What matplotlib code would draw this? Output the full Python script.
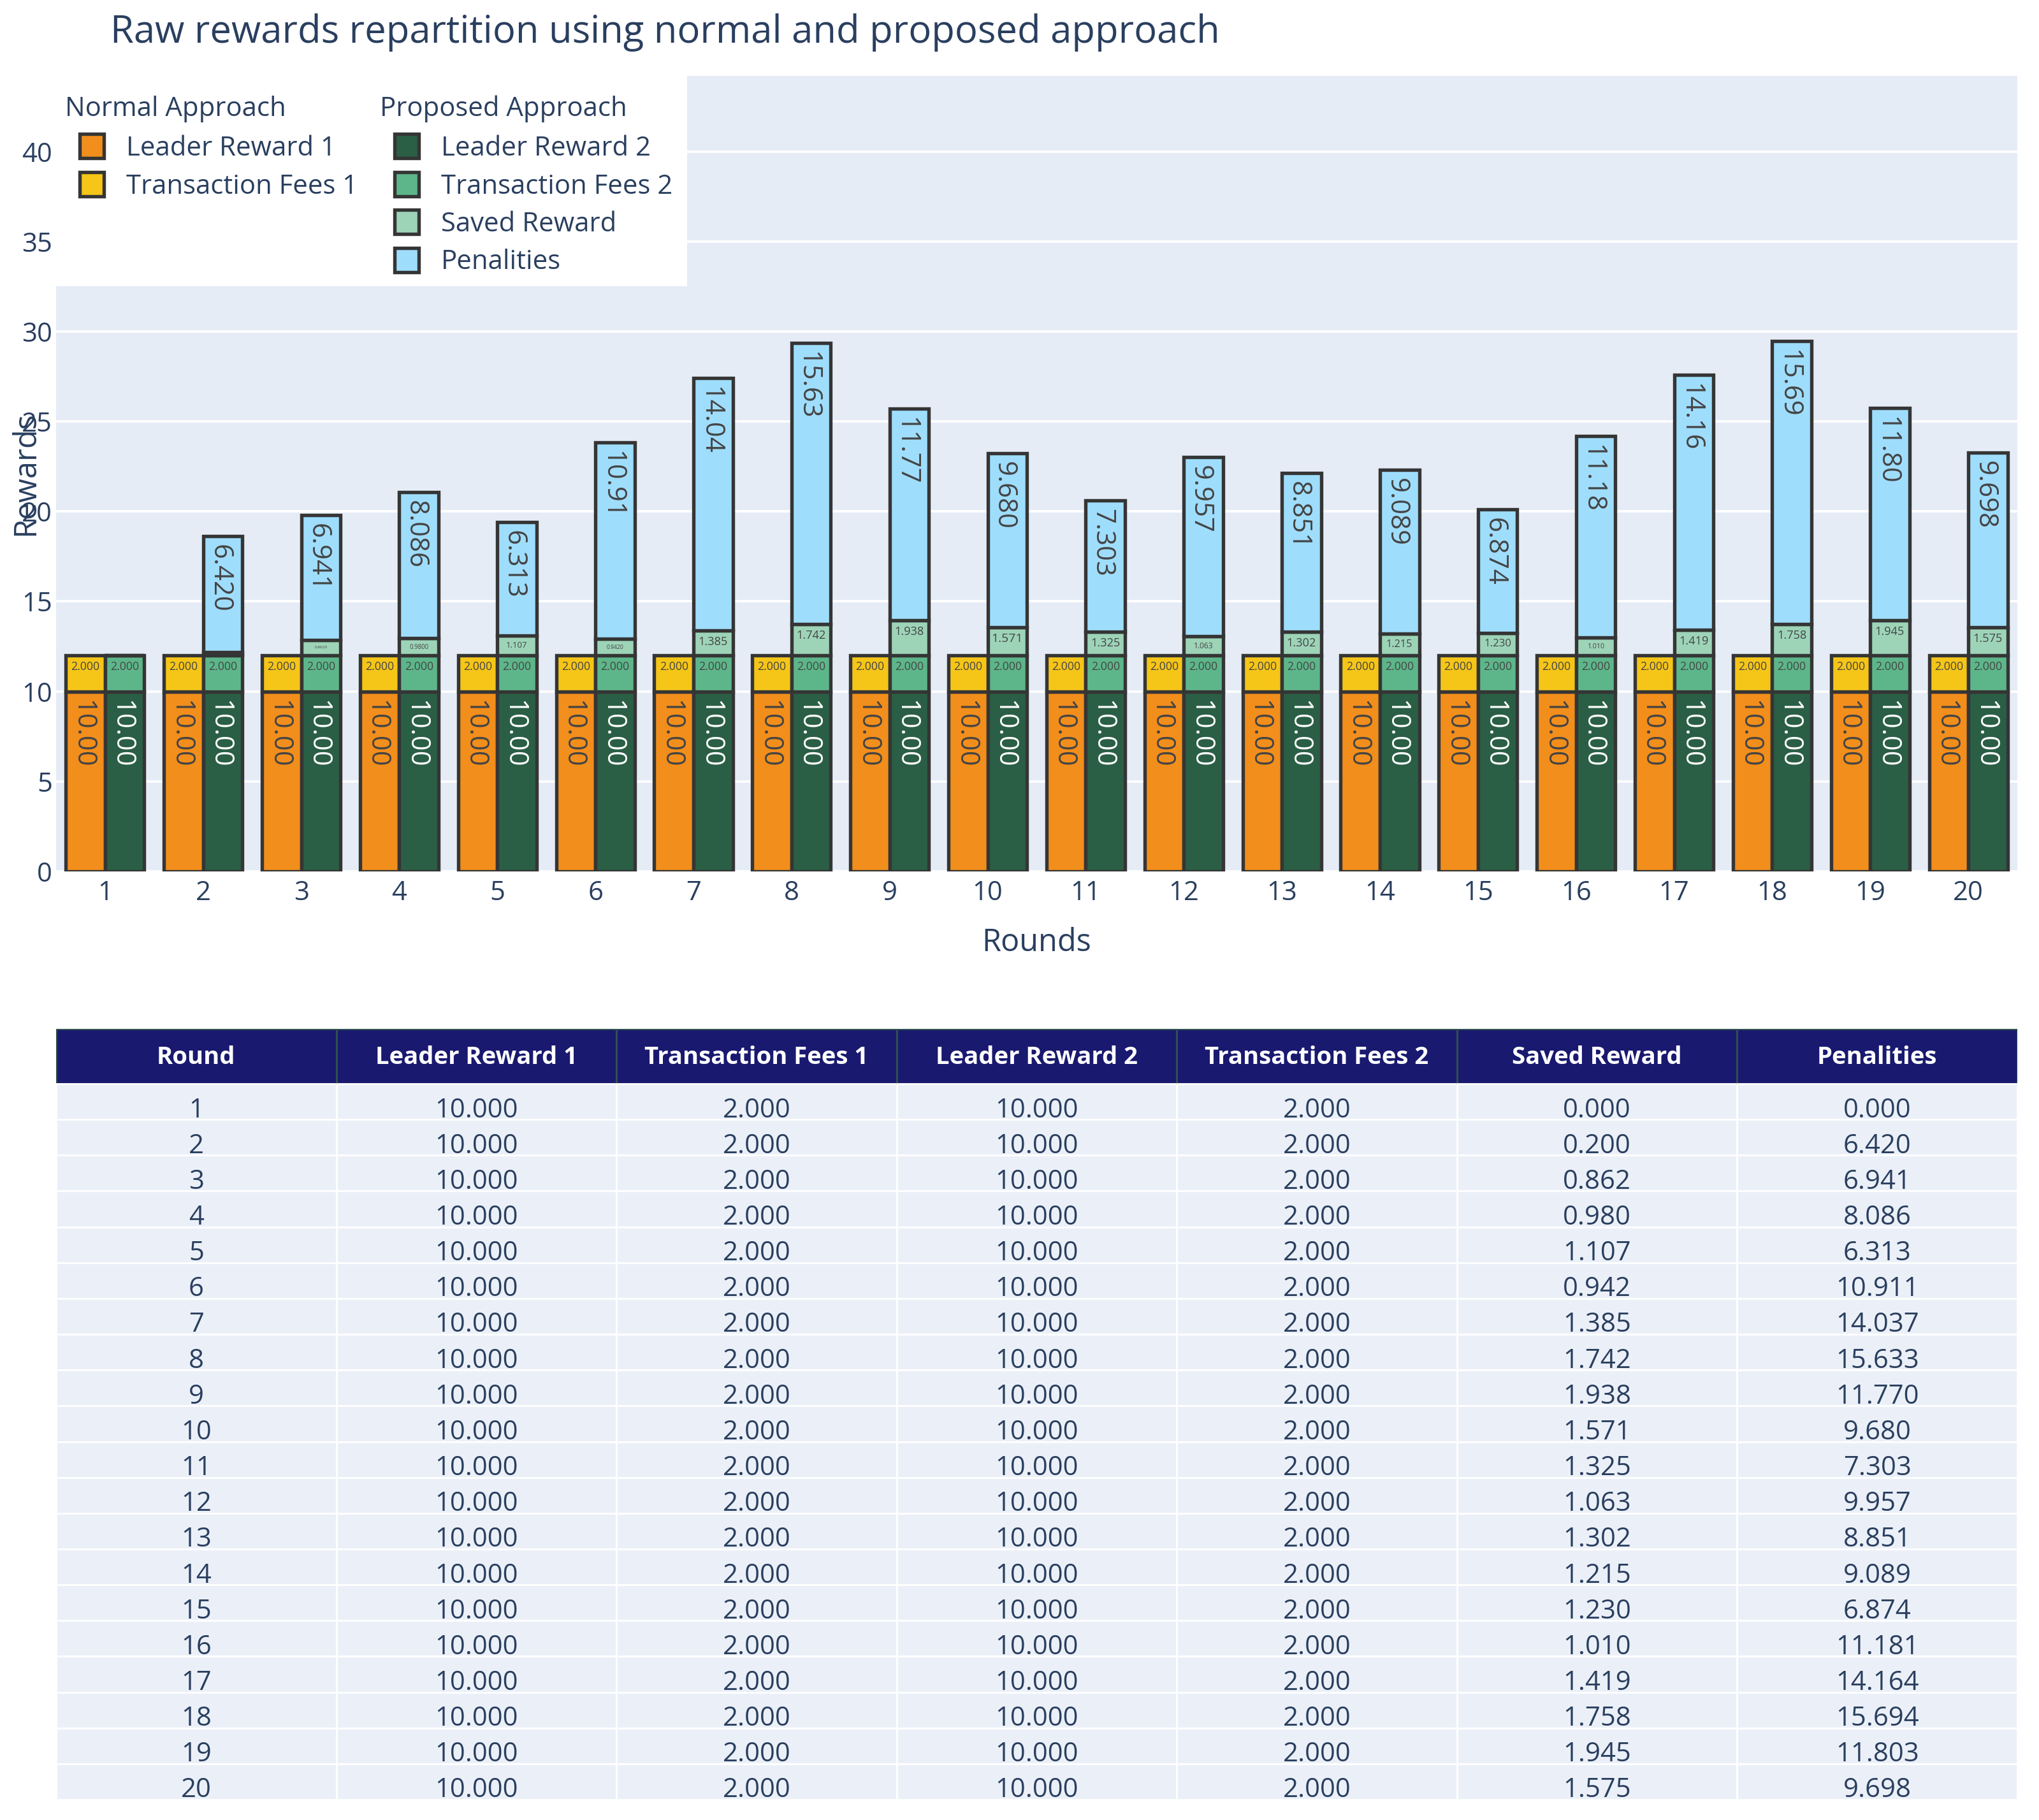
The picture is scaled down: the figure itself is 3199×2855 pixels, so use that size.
import numpy as np
import matplotlib
matplotlib.use("Agg")
import matplotlib.pyplot as plt
from matplotlib.patches import Rectangle
from matplotlib.textpath import TextPath
from matplotlib.font_manager import FontProperties

# --- data ---
rounds = [1, 2, 3, 4, 5, 6, 7, 8, 9, 10, 11, 12, 13, 14, 15, 16, 17, 18, 19, 20]
leader_reward_1 = [10.0, 10.0, 10.0, 10.0, 10.0, 10.0, 10.0, 10.0, 10.0, 10.0,
                   10.0, 10.0, 10.0, 10.0, 10.0, 10.0, 10.0, 10.0, 10.0, 10.0]
transaction_fees_1 = [2.0, 2.0, 2.0, 2.0, 2.0, 2.0, 2.0, 2.0, 2.0, 2.0,
                      2.0, 2.0, 2.0, 2.0, 2.0, 2.0, 2.0, 2.0, 2.0, 2.0]
leader_reward_2 = [10.0, 10.0, 10.0, 10.0, 10.0, 10.0, 10.0, 10.0, 10.0, 10.0,
                   10.0, 10.0, 10.0, 10.0, 10.0, 10.0, 10.0, 10.0, 10.0, 10.0]
transaction_fees_2 = [2.0, 2.0, 2.0, 2.0, 2.0, 2.0, 2.0, 2.0, 2.0, 2.0,
                      2.0, 2.0, 2.0, 2.0, 2.0, 2.0, 2.0, 2.0, 2.0, 2.0]
saved_reward = [0.000, 0.200, 0.862, 0.980, 1.107, 0.942, 1.385, 1.742, 1.938, 1.571,
                1.325, 1.063, 1.302, 1.215, 1.230, 1.010, 1.419, 1.758, 1.945, 1.575]
penalities = [0.000, 6.420, 6.941, 8.086, 6.313, 10.911, 14.037, 15.633, 11.770, 9.680,
              7.303, 9.957, 8.851, 9.089, 6.874, 11.181, 14.164, 15.694, 11.803, 9.698]

group_titles = ["Normal Approach", "Proposed Approach"]
series_names = ["Leader Reward 1", "Transaction Fees 1", "Leader Reward 2",
                "Transaction Fees 2", "Saved Reward", "Penalities"]
table_header = ["Round"] + series_names

title = "Raw rewards repartition using normal and proposed approach"

# --- style ---
W, H, DPI = 3199, 2855, 100
PT = DPI / 72.0
FONT = "Open Sans"
TXT = "#2a3f5f"
EDGE = "#353535"
LW = 3.9
colors = ["#f28e1c", "#f5c518", "#2a5f45", "#5db68a", "#9dd4b8", "#9fddfc"]
BASE = 30.2

plt.rcParams["font.family"] = [FONT, "DejaVu Sans"]

fig = plt.figure(figsize=(W / DPI, H / DPI), dpi=DPI)


def fx(px):
    return px / W


def fy(py):
    return 1 - py / H


# --- bar chart ---
ax = fig.add_axes([fx(88), fy(1367), (3165 - 88) / W, (1367 - 119) / H])
ax.set_facecolor("#e5ecf6")
for s in ax.spines.values():
    s.set_visible(False)
ax.set_axisbelow(True)
ax.grid(axis="y", color="white", linewidth=2.8)
ax.set_xlim(-0.5, len(rounds) - 0.5)
ax.set_ylim(0, 44.2)
ax.set_yticks(np.arange(0, 41, 5))
pos = np.arange(len(rounds))
ax.set_xticks(pos)
ax.set_xticklabels([str(r) for r in rounds])
ax.tick_params(length=0, labelsize=BASE, labelcolor=TXT)
ax.tick_params(axis="x", pad=9.5)
ax.tick_params(axis="y", pad=4.3)

ax.set_xlabel("Rounds", fontsize=35, color=TXT)
ax.xaxis.set_label_coords(0.5, -(1479 - 1367) / (1367 - 119))
ax.xaxis.label.set_va("center")
ax.set_ylabel("Rewards", fontsize=35, color=TXT)
ax.yaxis.set_label_coords((41 - 88) / (3165 - 88), 0.5)
ax.yaxis.label.set_va("center")

bw = 0.4
stacks = [
    (pos - bw / 2, [leader_reward_1, transaction_fees_1], colors[0:2]),
    (pos + bw / 2, [leader_reward_2, transaction_fees_2, saved_reward, penalities], colors[2:6]),
]

p0 = ax.transData.transform((0, 0))
p1 = ax.transData.transform((1, 1))
sx, sy = p1[0] - p0[0], p1[1] - p0[1]
fp = FontProperties(family=FONT)
PAD = 9


def seg_label(xc, bottom, height, color):
    if height <= 0:
        return
    s = f"{height:#.4g}"
    f_px = BASE * PT
    tw = TextPath((0, 0), s, size=f_px, prop=fp).get_extents().width
    th = f_px
    aw = bw * sx - 2 * PAD
    ah = height * sy - 2 * PAD
    if ah <= 1:
        return
    sh = min(1, aw / tw, ah / th)
    sr = min(1, ah / tw, aw / th)
    top = bottom + height
    if sr > sh:
        ax.annotate(s, (xc, top), xytext=(0, -13), textcoords="offset pixels",
                    rotation=270, rotation_mode="anchor", ha="left",
                    va="center_baseline", fontsize=BASE * sr, color=color, zorder=5)
    else:
        ax.annotate(s, (xc, top), xytext=(0, -PAD), textcoords="offset pixels",
                    ha="center", va="top", fontsize=BASE * sh, color=color, zorder=5)


for xs, series, cols in stacks:
    bottom = np.zeros(len(rounds))
    for vals, c in zip(series, cols):
        vals = np.array(vals)
        ax.bar(xs, vals, bw, bottom=bottom, color=c, edgecolor=EDGE,
               linewidth=LW, zorder=3)
        tcol = "white" if c == colors[2] else "#444444"
        for xc, b, v in zip(xs, bottom, vals):
            seg_label(xc, b, v, tcol)
        bottom = bottom + vals

# --- legend ---
fig.add_artist(Rectangle((fx(88), fy(449)), (1078 - 88) / W, (449 - 119) / H,
                         transform=fig.transFigure, facecolor="white",
                         edgecolor="none", zorder=2))
legend_cols = [
    (group_titles[0], 102, 125, 198, list(zip(series_names[0:2], colors[0:2]))),
    (group_titles[1], 596, 619, 692, list(zip(series_names[2:6], colors[2:6]))),
]
SW = 38
for gtitle, tx, swx, lx, items in legend_cols:
    fig.text(fx(tx), fy(171), gtitle, fontsize=BASE, color=TXT,
             ha="left", va="center", zorder=4)
    for i, (name, c) in enumerate(items):
        yc = 229 + i * 59.5
        fig.add_artist(Rectangle((fx(swx), fy(yc + SW / 2)), SW / W, SW / H,
                                 transform=fig.transFigure, facecolor=c,
                                 edgecolor=EDGE, linewidth=LW, zorder=3))
        fig.text(fx(lx), fy(yc + 4), name, fontsize=BASE, color=TXT,
                 ha="left", va="center", zorder=4)

# --- title ---
fig.text(fx(173), fy(51), title, fontsize=43, color=TXT, ha="left", va="center")

# --- table ---
header_h, row_h = 86, 56.15
n_rows = len(rounds)
table_h = header_h + n_rows * row_h
tax = fig.add_axes([fx(88), fy(1614 + table_h), (3165 - 88) / W, table_h / H])
tax.set_xlim(0, len(table_header))
tax.set_ylim(table_h, 0)
tax.axis("off")

columns = [[str(r) for r in rounds]] + [[f"{v:.3f}" for v in col] for col in
           [leader_reward_1, transaction_fees_1, leader_reward_2,
            transaction_fees_2, saved_reward, penalities]]

for c, name in enumerate(table_header):
    tax.add_patch(Rectangle((c, 0), 1, header_h, facecolor="#191970",
                            edgecolor="#2f4f4f", linewidth=2.2))
    tax.text(c + 0.5, header_h / 2 + 2, name, color="white", fontsize=27.5,
             fontweight="bold", ha="center", va="center")
    for r, val in enumerate(columns[c]):
        y0 = header_h + r * row_h
        tax.add_patch(Rectangle((c, y0), 1, row_h, facecolor="#ebf0f8",
                                edgecolor="white", linewidth=2))
        tax.text(c + 0.5, y0 + 0.74 * row_h, val, color=TXT, fontsize=BASE,
                 ha="center", va="center")

fig.savefig("out.png", dpi=DPI)
